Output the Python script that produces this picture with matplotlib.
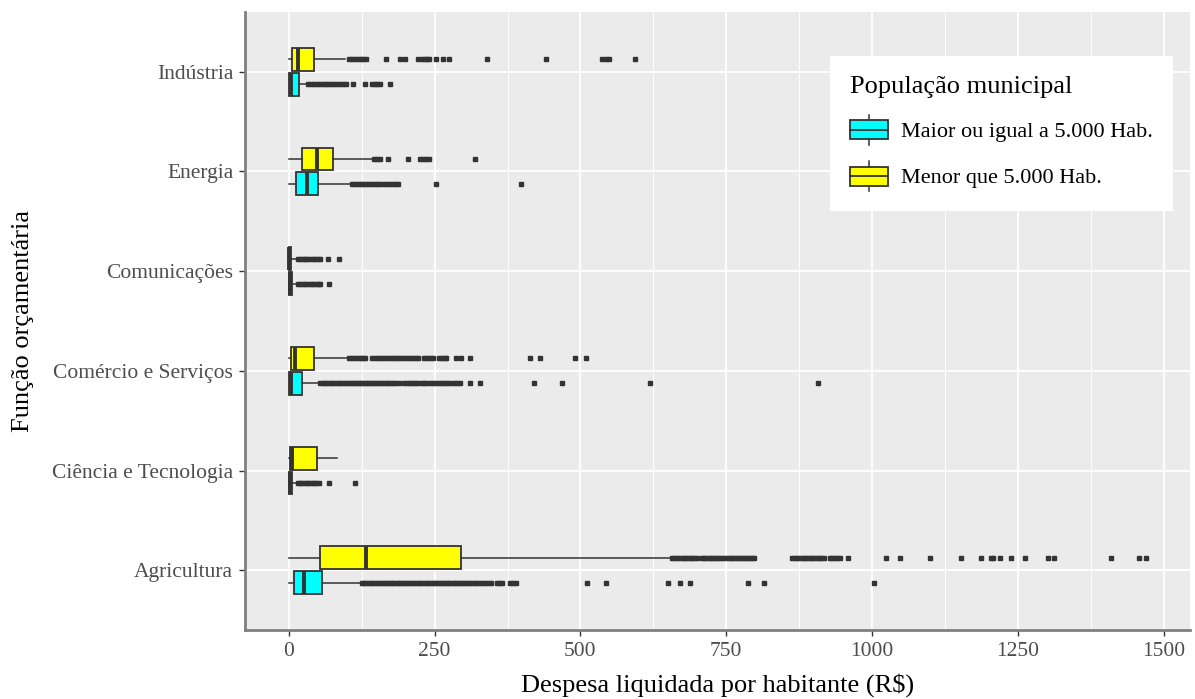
import matplotlib
matplotlib.use("Agg")
import matplotlib.pyplot as plt
from matplotlib.legend_handler import HandlerBase
from matplotlib.lines import Line2D
from matplotlib.patches import Rectangle, Patch
from matplotlib.ticker import MultipleLocator

plt.rcParams['font.family'] = ['Liberation Serif', 'DejaVu Serif']

# categorias, de baixo para cima
categorias = ["Agricultura", "Ciência e Tecnologia", "Comércio e Serviços",
              "Comunicações", "Energia", "Indústria"]

# Maior ou igual a 5.000 Hab. (ciano)
maior_q1 = [9, 0, 0, 0, 13, 0]
maior_med = [26, 2, 4, 2, 31, 4]
maior_q3 = [57, 6, 23, 6, 50, 17]
maior_lo = [0, 0, 0, 0, 0, 0]
maior_hi = [123, 13, 52, 14, 106, 31]
maior_out = [
    [125, 129, 133, 137, 141, 145, 149, 153, 157, 161, 165, 169, 173, 177, 181,
     185, 189, 193, 197, 201, 205, 209, 213, 217, 221, 225, 229, 233, 237, 241,
     245, 249, 253, 257, 261, 265, 269, 273, 277, 281, 285, 289, 293, 297, 301,
     305, 309, 313, 317, 321, 326, 331, 336, 341, 346, 357, 362, 366, 380, 385,
     389, 512, 543, 650, 670, 688, 788, 815, 1004],
    [15, 19, 23, 27, 31, 35, 39, 43, 47, 51, 69, 113],
    [54, 58, 62, 66, 70, 74, 78, 82, 86, 90, 94, 98, 102, 106, 110, 114, 118,
     122, 126, 130, 134, 138, 142, 146, 150, 154, 158, 162, 166, 170, 174, 178,
     182, 189, 197, 202, 207, 212, 216, 220, 226, 231, 235, 242, 247, 252, 257,
     262, 267, 272, 276, 283, 288, 293, 310, 327, 420, 468, 619, 908],
    [16, 20, 24, 28, 32, 36, 40, 44, 48, 52, 54, 69],
    [108, 113, 118, 123, 128, 133, 138, 143, 148, 153, 157, 164, 169, 174, 179,
     184, 188, 252, 398],
    [33, 38, 43, 48, 53, 58, 63, 68, 73, 78, 83, 88, 93, 98, 110, 130, 142, 147,
     152, 156, 174],
]

# Menor que 5.000 Hab. (amarelo)
menor_q1 = [53, 2, 3, 0, 23, 6]
menor_med = [133, 5, 10, 1, 49, 16]
menor_q3 = [295, 48, 44, 4, 75, 44]
menor_lo = [0, 0, 0, 0, 0, 0]
menor_hi = [653, 83, 100, 15, 143, 96]
menor_out = [
    [657, 661, 665, 670, 675, 679, 683, 687, 691, 695, 700, 708, 712, 716, 720,
     724, 728, 732, 736, 740, 745, 750, 754, 758, 762, 766, 770, 774, 778, 782,
     786, 790, 794, 798, 863, 868, 872, 877, 881, 885, 889, 893, 897, 901, 905,
     909, 913, 917, 927, 931, 936, 940, 945, 958, 1024, 1048, 1100, 1153, 1187,
     1203, 1208, 1219, 1238, 1262, 1301, 1312, 1410, 1457, 1470],
    [],
    [103, 108, 113, 118, 123, 128, 130, 143, 148, 153, 158, 164, 168, 173, 178,
     183, 188, 193, 198, 203, 208, 213, 218, 221, 232, 237, 242, 248, 258, 263,
     268, 270, 286, 296, 310, 414, 431, 491, 509],
    [16, 20, 24, 28, 32, 37, 41, 45, 50, 54, 67, 86],
    [146, 151, 157, 170, 205, 225, 230, 235, 241, 320],
    [103, 108, 113, 118, 123, 128, 133, 166, 191, 200, 221, 229, 233, 237, 241,
     252, 264, 275, 340, 441, 537, 543, 549, 594],
]

grupos = ["Maior ou igual a 5.000 Hab.", "Menor que 5.000 Hab."]
cores = ["#00FFFF", "#FFFF00"]
xticks = [0, 250, 500, 750, 1000, 1250, 1500]

escuro = "#333333"


def montar_stats(q1, med, q3, lo, hi, out):
    stats = []
    for i in range(len(q1)):
        stats.append(dict(q1=q1[i], med=med[i], q3=q3[i],
                          whislo=lo[i], whishi=hi[i], fliers=out[i]))
    return stats


class HandlerBox(HandlerBase):
    # chave da legenda no estilo ggplot: caixa com mediana e bigode
    def create_artists(self, legend, orig_handle, xdescent, ydescent,
                       width, height, fontsize, trans):
        cx = width / 2 - xdescent
        bh = height * 0.64
        y0 = (height - bh) / 2 - ydescent
        whisk = Line2D([cx, cx], [-ydescent, height - ydescent], color=escuro,
                       lw=1.1, transform=trans)
        box = Rectangle((-xdescent, y0), width, bh,
                        facecolor=orig_handle.get_facecolor(),
                        edgecolor=escuro, lw=1.3, transform=trans)
        med = Line2D([-xdescent, width - xdescent],
                     [y0 + bh / 2, y0 + bh / 2], color=escuro, lw=1.3,
                     transform=trans)
        return [whisk, box, med]


fig = plt.figure(figsize=(11.95, 6.99), dpi=100)
ax = fig.add_axes([245 / 1195, 1 - 630 / 699, 945 / 1195, 618 / 699])
ax.set_facecolor("#EBEBEB")

posicoes = list(range(1, len(categorias) + 1))
todos = [
    montar_stats(maior_q1, maior_med, maior_q3, maior_lo, maior_hi, maior_out),
    montar_stats(menor_q1, menor_med, menor_q3, menor_lo, menor_hi, menor_out),
]
desloc = [-0.125, 0.125]

for stats, cor, d in zip(todos, cores, desloc):
    ax.bxp(stats, positions=[p + d for p in posicoes], widths=0.23,
           orientation='horizontal', patch_artist=True, showcaps=False,
           boxprops=dict(facecolor=cor, edgecolor=escuro, linewidth=1.3),
           medianprops=dict(color=escuro, linewidth=2.8, solid_capstyle='butt'),
           whiskerprops=dict(color=escuro, linewidth=1.1),
           flierprops=dict(marker='s', markersize=3, markerfacecolor=escuro,
                           markeredgecolor=escuro, linestyle='none'),
           zorder=3)

ax.set_xlim(-75, 1545)
ax.set_ylim(0.4, 6.6)
ax.set_xticks(xticks)
ax.set_xticklabels([str(v) for v in xticks])
ax.xaxis.set_minor_locator(MultipleLocator(125))
ax.set_yticks(posicoes)
ax.set_yticklabels(categorias)

ax.grid(True, which='major', color='white', lw=1.3, zorder=0)
ax.grid(True, which='minor', axis='x', color='white', lw=0.7, zorder=0)
ax.set_axisbelow(True)

for s in ['top', 'right']:
    ax.spines[s].set_visible(False)
for s in ['left', 'bottom']:
    ax.spines[s].set_color('#808080')
    ax.spines[s].set_linewidth(2)

ax.tick_params(axis='both', which='major', colors=escuro, length=4.5,
               width=1, labelsize=15.5, labelcolor='#4D4D4D', pad=4)
ax.tick_params(axis='x', which='minor', length=0)

ax.set_xlabel("Despesa liquidada por habitante (R$)", fontsize=19,
              labelpad=9, color='black')
ax.set_ylabel("Função orçamentária", fontsize=19, labelpad=13, color='black')

handles = [Patch(facecolor=c, edgecolor=escuro) for c in cores]
leg = ax.legend(handles, grupos, title="População municipal",
                handler_map={Patch: HandlerBox()},
                loc='upper right', bbox_to_anchor=(0.982, 0.929),
                borderaxespad=0, frameon=True, fancybox=False, framealpha=1,
                fontsize=16, title_fontsize=19, handlelength=1.7,
                handleheight=1.7, handletextpad=0.6, labelspacing=0.75,
                borderpad=0.9)
leg.get_frame().set_facecolor('white')
leg.get_frame().set_edgecolor('white')
leg.get_frame().set_linewidth(0)
leg._legend_box.align = "left"

fig.savefig("out.png", dpi=100, facecolor='white')
